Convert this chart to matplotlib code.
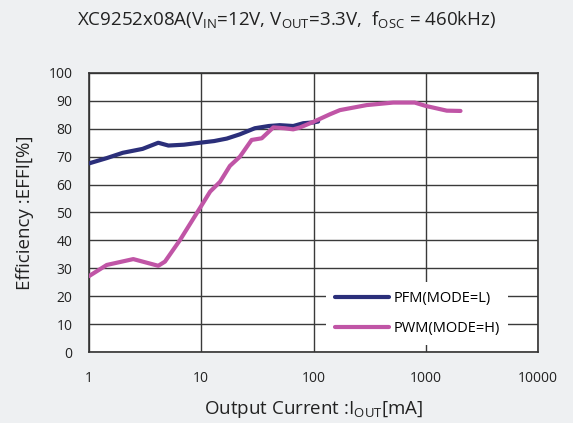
import matplotlib.pyplot as plt
import matplotlib.ticker as mticker

plt.rcParams['font.family'] = ['Open Sans', 'DejaVu Sans']

# PFM(MODE=L)
pfm_x = [1.0, 1.44, 2.0, 3.0, 4.14, 5.1, 7.0, 9.7, 13.0, 16.9, 22.0, 30.0, 40.0, 50.0, 66.0, 81.0, 100.0, 110.0]
pfm_y = [67.6, 69.5, 71.4, 72.8, 75.0, 74.0, 74.3, 75.0, 75.6, 76.5, 78.0, 80.2, 81.0, 81.3, 81.0, 82.0, 82.3, 82.6]

# PWM(MODE=H)
pwm_x = [1.0, 1.44, 2.48, 4.14, 4.75, 6.46, 9.1, 12.0, 14.7, 18.0, 22.1, 28.1, 34.6, 43.9, 55.0, 66.0, 76.0, 100.0, 140.0,
         172.0, 298.0, 513.0, 797.0, 1000.0, 1540.0, 2040.0]
pwm_y = [27.2, 31.2, 33.3, 30.9, 32.4, 40.1, 49.7, 57.5, 61.0, 66.7, 70.0, 76.0, 76.6, 80.5, 80.2, 79.8, 80.5, 82.5, 85.2,
         86.7, 88.5, 89.4, 89.4, 88.2, 86.5, 86.4]

fig = plt.figure(figsize=(5.73, 4.23), dpi=100)
fig.patch.set_facecolor('#eef0f2')
ax = fig.add_axes([89 / 573, 1 - 352 / 423, 449 / 573, 279 / 423])
ax.set_facecolor('white')

ax.plot(pfm_x, pfm_y, color='#2b2f7a', lw=3, solid_capstyle='round', label='PFM(MODE=L)', zorder=3)
ax.plot(pwm_x, pwm_y, color='#c055a6', lw=3, solid_capstyle='round', label='PWM(MODE=H)', zorder=3)

ax.set_xscale('log')
ax.set_xlim(1, 10000)
ax.set_ylim(0, 100)
ax.xaxis.set_major_locator(mticker.LogLocator(base=10, numticks=10))
ax.xaxis.set_minor_locator(mticker.NullLocator())
ax.xaxis.set_major_formatter(mticker.FuncFormatter(lambda v, p: '%d' % v))
ax.set_yticks(range(0, 101, 10))
ax.grid(True, color='#3a3a3a', lw=1, zorder=1)
ax.tick_params(length=0, labelsize=10, colors='#222222')
ax.tick_params(axis='x', pad=14)
ax.tick_params(axis='y', pad=12)
for s in ax.spines.values():
    s.set_color('#333333')
    s.set_linewidth(1.2)

fig.text(0.5, 1 - 20 / 423, r'XC9252x08A(V$_{\mathregular{IN}}$=12V, V$_{\mathregular{OUT}}$=3.3V,  f$_{\mathregular{OSC}}$ = 460kHz)',
         ha='center', va='center', fontsize=13.5, color='#222222')
ax.set_ylabel('Efficiency :EFFI[%]', fontsize=13.5, color='#222222', labelpad=10)
ax.set_xlabel(r'Output Current :I$_{\mathregular{OUT}}$[mA]', fontsize=13.5, color='#222222', labelpad=9)

leg = ax.legend(loc='lower right', bbox_to_anchor=(0.95, 0.0), frameon=True, fontsize=10.5,
                handlelength=3.7, handletextpad=0.3, borderpad=0.6, labelspacing=1.05)
leg.get_frame().set_edgecolor('none')
leg.get_frame().set_facecolor('white')
leg.get_frame().set_alpha(1)
leg.set_zorder(4)

fig.savefig('out.png', dpi=100, facecolor=fig.get_facecolor())
